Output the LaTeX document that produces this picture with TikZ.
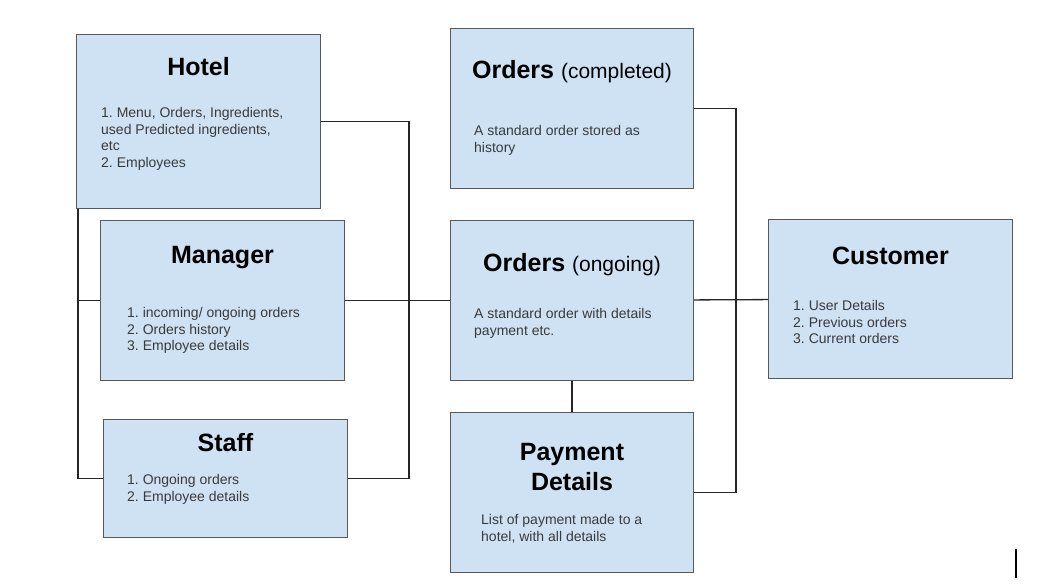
\documentclass[tikz,border=0pt]{standalone}
\usepackage{fontspec}
\setmainfont{Liberation Sans}
\usetikzlibrary{positioning,calc}
\frenchspacing

\definecolor{boxblue}{HTML}{CFE2F3}
\definecolor{boxedge}{HTML}{595959}
\definecolor{bodygray}{HTML}{3A3A3A}

\tikzset{
  entity/.style={draw=boxedge, fill=boxblue, line width=1pt, anchor=north west, inner sep=0pt, minimum width=243pt, minimum height=160pt},
  title/.style={font=\fontsize{25}{30}\selectfont\bfseries, align=center},
  body/.style={font=\fontsize{14}{16.8}\selectfont, text=bodygray, align=left, anchor=north west, inner sep=0pt},
  link/.style={draw=black!85, line width=1.3pt},
}

\begin{document}
\begin{tikzpicture}[x=1pt, y=-1pt]
  \useasboundingbox (0,0) rectangle (1042,586);

  \node[entity, minimum width=244pt, minimum height=174pt] (hotel) at (76,34) {};
  \node[entity, minimum width=244pt] (manager) at (100,220) {};
  \node[entity, minimum width=244pt, minimum height=118pt] (staff) at (103,419) {};
  \node[entity] (ocomp) at (450,28) {};
  \node[entity] (oongo) at (450,220) {};
  \node[entity] (pay) at (450,412) {};
  \node[entity, minimum width=244pt, minimum height=159pt] (cust) at (768,219) {};

  \node[title] (hoteltitle) at ($(hotel.north)+(0,33)$) {Hotel};
  \node[title] (managertitle) at ($(manager.north)+(0,38)$) {Manager};
  \node[title] (stafftitle) at ($(staff.north)+(0,24)$) {Staff};
  \node[title] (ocomptitle) at ($(ocomp.north)+(0,44)$) {Orders {\mdseries\fontsize{21}{24}\selectfont (completed)}};
  \node[title] (oongotitle) at ($(oongo.north)+(0,45)$) {Orders {\mdseries\fontsize{21}{24}\selectfont (ongoing)}};
  \node[title] (paytitle) at ($(pay.north)+(0,55)$) {Payment\\Details};
  \node[title] (custtitle) at ($(cust.north)+(0,37)$) {Customer};

  \node[body] (hotelbody) at ($(hotel.north west)+(25,73)$) {1. Menu, Orders, Ingredients,\\used Predicted ingredients,\\etc\\2. Employees};
  \node[body] (managerbody) at ($(manager.north west)+(27,87)$) {1. incoming/ ongoing orders\\2. Orders history\\3. Employee details};
  \node[body] (staffbody) at ($(staff.north west)+(24,55)$) {1. Ongoing orders\\2. Employee details};
  \node[body] (ocompbody) at ($(ocomp.north west)+(24,97)$) {A standard order stored as\\history};
  \node[body] (oongobody) at ($(oongo.north west)+(24,88)$) {A standard order with details\\payment etc.};
  \node[body] (paybody) at ($(pay.north west)+(31,102)$) {List of payment made to a\\hotel, with all details};
  \node[body] (custbody) at ($(cust.north west)+(25,81)$) {1. User Details\\2. Previous orders\\3. Current orders};

  \coordinate (lbus) at (409,299);
  \coordinate (rbus) at (736,299);
  \coordinate (edge) at ($(hotel.south west)+(2,0)$);

  \draw[link] (hotel.east) -| (lbus) |- (staff.east);
  \draw[link] (edge) |- (staff.west);
  \draw[link] (manager.west) -- (manager.west -| edge);
  \draw[link] (manager) -- (oongo);
  \draw[link] (ocomp.east) -| (rbus) |- (pay.east);
  \draw[link] (oongo) -- (cust);
  \draw[link] (oongo) -- (pay);

  \draw[line width=2.5pt] (1016,549) -- (1016,578);

\end{tikzpicture}
\end{document}
